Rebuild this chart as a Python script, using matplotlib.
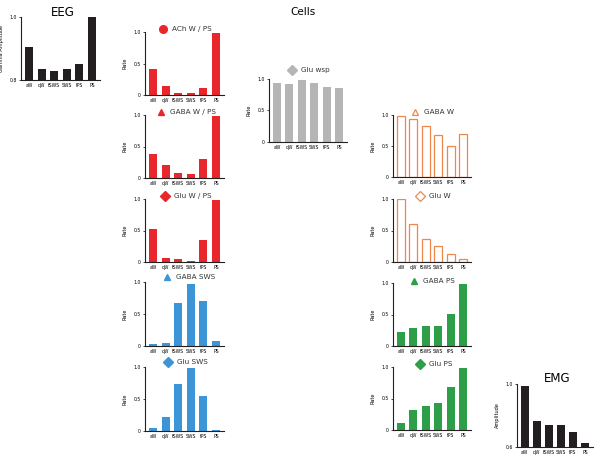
import matplotlib
matplotlib.use("Agg")
import matplotlib.pyplot as plt

W, H = 602, 462
fig = plt.figure(figsize=(W / 100, H / 100), dpi=100)

states = ["aW", "qW", "tSWS", "SWS", "tPS", "PS"]

eeg = [0.906, 0.836, 0.829, 0.834, 0.851, 1.0]
emg = [0.99, 0.765, 0.74, 0.74, 0.697, 0.623]
ach_wps = [0.42, 0.147, 0.03, 0.03, 0.11, 0.99]
gaba_wps = [0.38, 0.205, 0.084, 0.068, 0.295, 0.99]
glu_wps = [0.52, 0.06, 0.04, 0.016, 0.35, 0.99]
gaba_sws = [0.03, 0.05, 0.67, 0.97, 0.70, 0.08]
glu_sws = [0.04, 0.22, 0.73, 0.98, 0.54, 0.015]
glu_wsp = [0.94, 0.926, 0.99, 0.94, 0.873, 0.857]
gaba_w = [0.99, 0.93, 0.83, 0.67, 0.505, 0.69]
glu_w = [1.0, 0.60, 0.364, 0.257, 0.134, 0.05]
gaba_ps = [0.223, 0.28, 0.31, 0.31, 0.505, 0.99]
glu_ps = [0.115, 0.314, 0.387, 0.435, 0.69, 0.98]

red = "#e8262b"
blue = "#3b95d6"
green = "#2d9f48"
gray = "#b5b5b5"
orange = "#f0874a"
black = "#231f20"


def px_axes(left, top, right, bottom):
    return fig.add_axes([left / W, 1 - bottom / H, (right - left) / W, (bottom - top) / H])


def style(ax, ylim, yticks, ylabels, ylabel):
    ax.set_xlim(-0.65, 5.65)
    ax.set_ylim(*ylim)
    for s in ["top", "right"]:
        ax.spines[s].set_visible(False)
    for s in ["left", "bottom"]:
        ax.spines[s].set_linewidth(0.8)
        ax.spines[s].set_color(black)
    ax.set_xticks(range(6))
    ax.set_xticklabels(states, fontsize=3.3)
    ax.set_yticks(yticks)
    ax.set_yticklabels(ylabels, fontsize=3.3)
    ax.tick_params(axis="x", length=0, pad=2)
    ax.tick_params(axis="y", length=1.5, width=0.5, pad=1.5)
    ax.set_ylabel(ylabel, fontsize=3.6, labelpad=4)


def rate_panel(rect, vals, color, title, marker, mx, my, hollow=False):
    ax = px_axes(*rect)
    if hollow:
        ax.bar(range(6), vals, width=0.65, facecolor="white", edgecolor=color, linewidth=0.9)
    else:
        ax.bar(range(6), vals, width=0.65, color=color)
    style(ax, (0, 1.0), [0, 0.5, 1.0], ["0", "0.5", "1.0"], "Rate")
    left, top, right, bottom = rect
    fx = (left + mx) / W
    fy = 1 - (top + my) / H
    ms = 5.5 if marker == "o" else 5
    if hollow:
        fig.lines.append(plt.Line2D([fx], [fy], marker=marker, markersize=ms,
                                    markerfacecolor="white", markeredgecolor=color,
                                    markeredgewidth=0.9, transform=fig.transFigure))
    else:
        fig.lines.append(plt.Line2D([fx], [fy], marker=marker, markersize=ms,
                                    color=color, transform=fig.transFigure))
    fig.text(fx + 9 / W, fy, title, fontsize=5.2, va="center", ha="left", color="#333333")
    return ax


# EEG
ax = px_axes(21, 17, 100, 80)
ax.bar(range(6), eeg, width=0.65, color=black)
style(ax, (0.8, 1.0), [0.8, 1.0], ["0.8", "1.0"], "Gamma Amplitude")
fig.text(63 / W, 1 - 12 / H, "EEG", fontsize=8.5, ha="center", va="center")

# EMG
ax = px_axes(517, 384, 593, 447)
ax.bar(range(6), emg, width=0.65, color=black)
style(ax, (0.6, 1.0), [0.6, 1.0], ["0.6", "1.0"], "Amplitude")
fig.text(557 / W, 1 - 378 / H, "EMG", fontsize=8.5, ha="center", va="center")

fig.text(303 / W, 1 - 12 / H, "Cells", fontsize=7.5, ha="center", va="center")

# column 2
rate_panel((145, 32, 224, 95), ach_wps, red, "ACh W / PS", "o", 18, -3)
rate_panel((145, 115, 224, 178), gaba_wps, red, "GABA W / PS", "^", 16, -3)
rate_panel((145, 199, 224, 262), glu_wps, red, "Glu W / PS", "D", 20, -3)
rate_panel((145, 282, 224, 346), gaba_sws, blue, "GABA SWS", "^", 22, -5)
rate_panel((145, 367, 224, 431), glu_sws, blue, "Glu SWS", "D", 23, -5)

# column 3
rate_panel((269, 79, 347, 142), glu_wsp, gray, "Glu wsp", "D", 23, -9)

# column 4
rate_panel((393, 115, 471, 177), gaba_w, orange, "GABA W", "^", 22, -3, hollow=True)
rate_panel((393, 199, 471, 262), glu_w, orange, "Glu W", "D", 27, -3, hollow=True)
rate_panel((393, 283, 471, 346), gaba_ps, green, "GABA PS", "^", 21, -2)
rate_panel((393, 367, 471, 430), glu_ps, green, "Glu PS", "D", 27, -3)

fig.savefig("out.png", dpi=100)
